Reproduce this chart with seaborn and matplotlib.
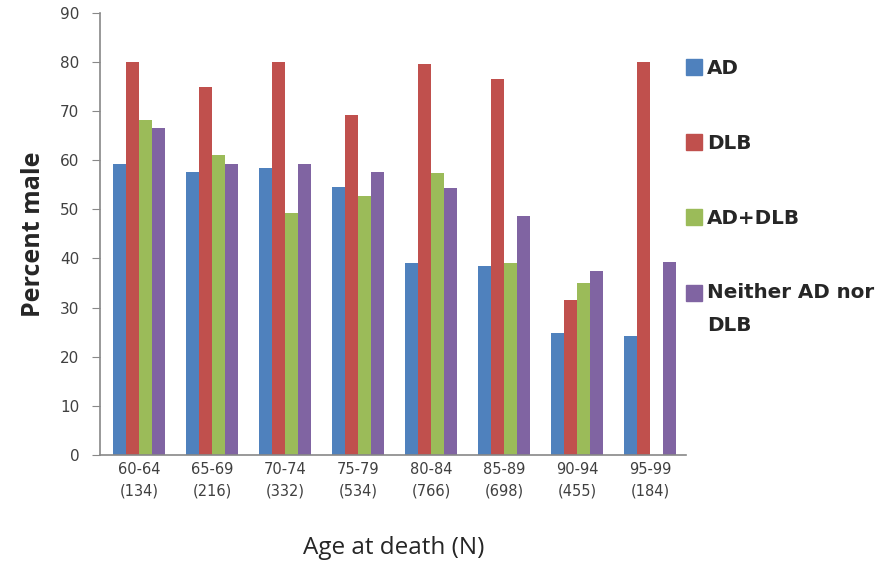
import pandas as pd
import numpy as np
import seaborn as sns
import matplotlib.pyplot as plt
from matplotlib.lines import Line2D

ages = ['60-64', '65-69', '70-74', '75-79', '80-84', '85-89', '90-94', '95-99']
counts = [134, 216, 332, 534, 766, 698, 455, 184]
groups = ['AD', 'DLB', 'AD+DLB', 'Neither AD nor\nDLB']

ad = [59.3, 57.6, 58.4, 54.6, 39.1, 38.4, 24.9, 24.2]
dlb = [80.0, 74.9, 80.0, 69.2, 79.6, 76.6, 31.6, 80.0]
ad_dlb = [68.2, 61.1, 49.3, 52.7, 57.3, 39.1, 35.0, np.nan]
neither = [66.6, 59.3, 59.3, 57.6, 54.4, 48.7, 37.5, 39.2]

colors = ['#4F81BD', '#C0504D', '#9BBB59', '#8064A2']

tick_labels = [f'{a}\n({n})' for a, n in zip(ages, counts)]

rows = []
for g, vals in zip(groups, [ad, dlb, ad_dlb, neither]):
    for lab, v in zip(tick_labels, vals):
        rows.append({'age': lab, 'group': g, 'pct': v})
df = pd.DataFrame(rows).dropna()

sns.set_style('white')
fig = plt.figure(figsize=(8.79, 5.79), dpi=100)
ax = fig.add_axes([0.114, 0.214, 0.667, 0.764])

sns.barplot(data=df, x='age', y='pct', hue='group', order=tick_labels,
            hue_order=groups, palette=colors, width=0.71, saturation=1,
            errorbar=None, ax=ax, legend=False, linewidth=0)

ax.set_xlim(-0.53, 7.5)
ax.set_ylim(0, 90)
ax.set_yticks(range(0, 91, 10))
ax.set_xlabel('Age at death (N)', fontsize=17.5, family='Open Sans', labelpad=27)
ax.set_ylabel('Percent male', fontsize=18, fontweight='bold', family='Open Sans', labelpad=10)
ax.tick_params(axis='y', labelsize=11, colors='#404040', length=6, direction='out',
               color='#888888', left=True, pad=9)
ax.tick_params(axis='x', labelsize=10.5, colors='#404040', length=0, pad=5)
for t in ax.get_xticklabels():
    t.set_linespacing(1.5)
for s in ['top', 'right']:
    ax.spines[s].set_visible(False)
for s in ['left', 'bottom']:
    ax.spines[s].set_color('#888888')
    ax.spines[s].set_linewidth(1.2)

handles = [Line2D([0], [0], marker='s', linestyle='', markersize=11,
                  markerfacecolor=c, markeredgecolor=c) for c in colors]
leg = ax.legend(handles, groups, loc='upper left', bbox_to_anchor=(0.965, 0.935),
                frameon=False, prop={'weight': 'bold', 'size': 14.3},
                labelspacing=2.8, handletextpad=0.15, handlelength=1.0)
for t in leg.get_texts():
    t.set_linespacing(1.95)
# put the last marker next to the first line of its label
last = leg.legend_handles[3]
last.set_ydata(np.asarray(last.get_ydata()) + 12.2)

fig.savefig('out.png', dpi=100)
